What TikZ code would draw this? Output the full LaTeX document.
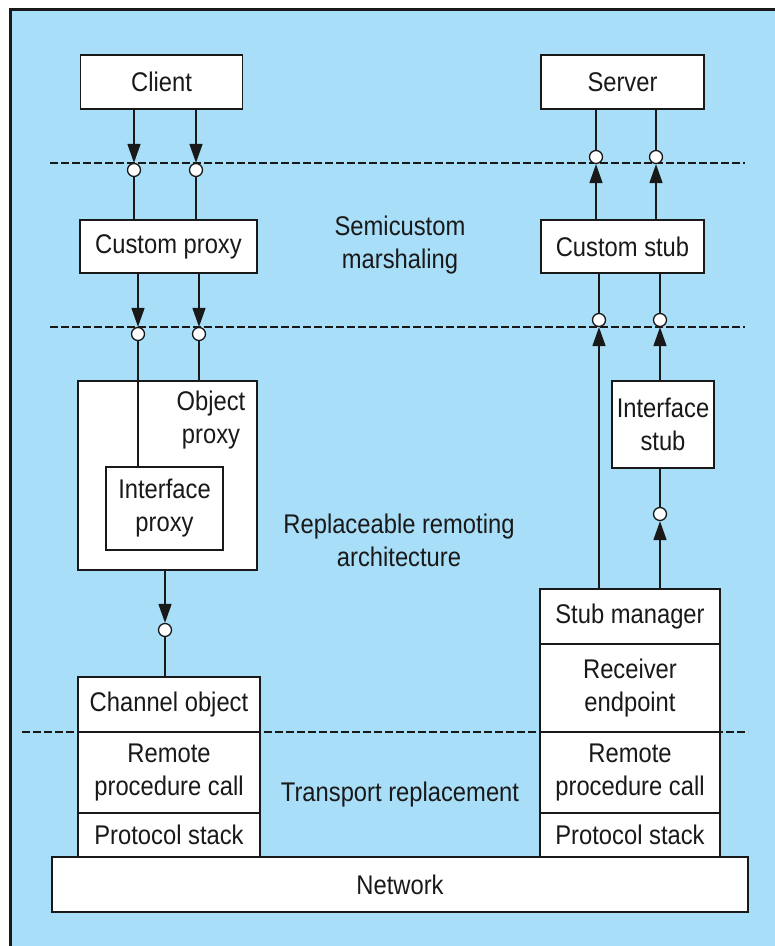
\documentclass[tikz,border=0pt]{standalone}
\usepackage{fontspec}
\setmainfont[FakeStretch=0.88]{Liberation Sans}
\usetikzlibrary{arrows.meta}
\definecolor{panel}{RGB}{168,222,248}
\definecolor{ink}{RGB}{25,25,25}
\begin{document}
\begin{tikzpicture}[x=1pt,y=-1pt,
  txt/.style={text=ink, align=center, font=\fontsize{27}{33}\selectfont},
  box/.style={txt, draw=ink, fill=white, line width=1.6pt, inner sep=0pt},
  wire/.style={draw=ink, line width=1.6pt},
  call/.style={wire, -{Triangle[width=13pt,length=19pt]}},
  port/.style={circle, draw=ink, fill=white, line width=1.3pt, minimum size=13pt, inner sep=0pt},
  boundary/.style={draw=ink, line width=1.6pt, dash pattern=on 8pt off 3pt}]

% page and panel
\useasboundingbox (0,0) rectangle (775,946);
\fill[white] (0,0) rectangle (775,946);
\fill[panel] (11,10) rectangle (775,946);
\draw[ink, line width=3pt] (10.5,946) -- (10.5,9.5) -- (775,9.5);

% layer boundaries
\coordinate (b1w) at (50,163);  \coordinate (b1e) at (745,163);
\coordinate (b2w) at (50,327);  \coordinate (b2e) at (745,327);
\coordinate (b3w) at (22,732);  \coordinate (b3e) at (748,732);
\draw[boundary] (b1w) -- (b1e);
\draw[boundary] (b2w) -- (b2e);
\draw[boundary] (b3w) -- (b3e);

% client side
\node[box, minimum width=162pt, minimum height=54pt] (client) at (161.5,82) {Client};
\node[box, minimum width=177pt, minimum height=53pt] (cproxy) at (168.5,246.5) {Custom proxy};
\node[box, minimum width=179pt, minimum height=189pt] (oproxy) at (167.5,475.5) {};
\node[txt] (oplabel) at (211,420) {Object\\proxy};
\node[box, minimum width=117pt, minimum height=83pt] (iproxy) at (164.5,508.5) {Interface\\proxy};
\node[box, minimum width=182pt, minimum height=55pt] (chan) at (169,704.5) {Channel object};
\node[box, minimum width=182pt, minimum height=81pt] (rpcl) at (169,772.5) {Remote\\procedure call};
\node[box, minimum width=182pt, minimum height=44pt] (psl) at (169,835) {Protocol stack};

% server side
\node[box, minimum width=163pt, minimum height=54pt] (server) at (622.5,82) {Server};
\node[box, minimum width=163pt, minimum height=53pt] (cstub) at (622.5,246.5) {Custom stub};
\node[box, minimum width=102pt, minimum height=87pt] (istub) at (663,424.5) {Interface\\stub};
\node[box, minimum width=180pt, minimum height=55pt] (stubm) at (630,616.5) {Stub manager};
\node[box, minimum width=180pt, minimum height=88pt] (recv) at (630,688) {Receiver\\endpoint};
\node[box, minimum width=180pt, minimum height=81pt] (rpcr) at (630,772.5) {Remote\\procedure call};
\node[box, minimum width=180pt, minimum height=44pt] (psr) at (630,835) {Protocol stack};

% shared network
\node[box, minimum width=696pt, minimum height=55pt] (net) at (400,884.5) {Network};

% layer captions
\node[txt] (semi) at (400,245) {Semicustom\\marshaling};
\node[txt] (repl) at (399,540) {Replaceable remoting\\architecture};
\node[txt] (trans) at (400,795) {Transport replacement};

% interface ports
\node[port] (pc1) at (134,170) {};
\node[port] (pc2) at (196,170) {};
\node[port] (ps1) at (596,157) {};
\node[port] (ps2) at (656,157) {};
\node[port] (pp1) at (138,334) {};
\node[port] (pp2) at (199,334) {};
\node[port] (pt1) at (599,320) {};
\node[port] (pt2) at (660,320) {};
\node[port] (pi) at (660,514) {};
\node[port] (po) at (165,630) {};

% calls on the client side
\draw[call] (client.south -| pc1) -- (pc1.north);
\draw[wire] (pc1.south) -- (cproxy.north -| pc1);
\draw[call] (client.south -| pc2) -- (pc2.north);
\draw[wire] (pc2.south) -- (cproxy.north -| pc2);
\draw[call] (cproxy.south -| pp1) -- (pp1.north);
\draw[wire] (pp1.south) -- (iproxy.north -| pp1);
\draw[call] (cproxy.south -| pp2) -- (pp2.north);
\draw[wire] (pp2.south) -- (oproxy.north -| pp2);
\draw[call] (oproxy.south -| po) -- (po.north);
\draw[wire] (po.south) -- (chan.north -| po);

% calls on the server side
\draw[wire] (server.south -| ps1) -- (ps1.north);
\draw[call] (cstub.north -| ps1) -- (ps1.south);
\draw[wire] (server.south -| ps2) -- (ps2.north);
\draw[call] (cstub.north -| ps2) -- (ps2.south);
\draw[wire] (cstub.south -| pt1) -- (pt1.north);
\draw[call] (stubm.north -| pt1) -- (pt1.south);
\draw[wire] (cstub.south -| pt2) -- (pt2.north);
\draw[call] (istub.north -| pt2) -- (pt2.south);
\draw[wire] (istub.south -| pi) -- (pi.north);
\draw[call] (stubm.north -| pi) -- (pi.south);
\end{tikzpicture}
\end{document}
